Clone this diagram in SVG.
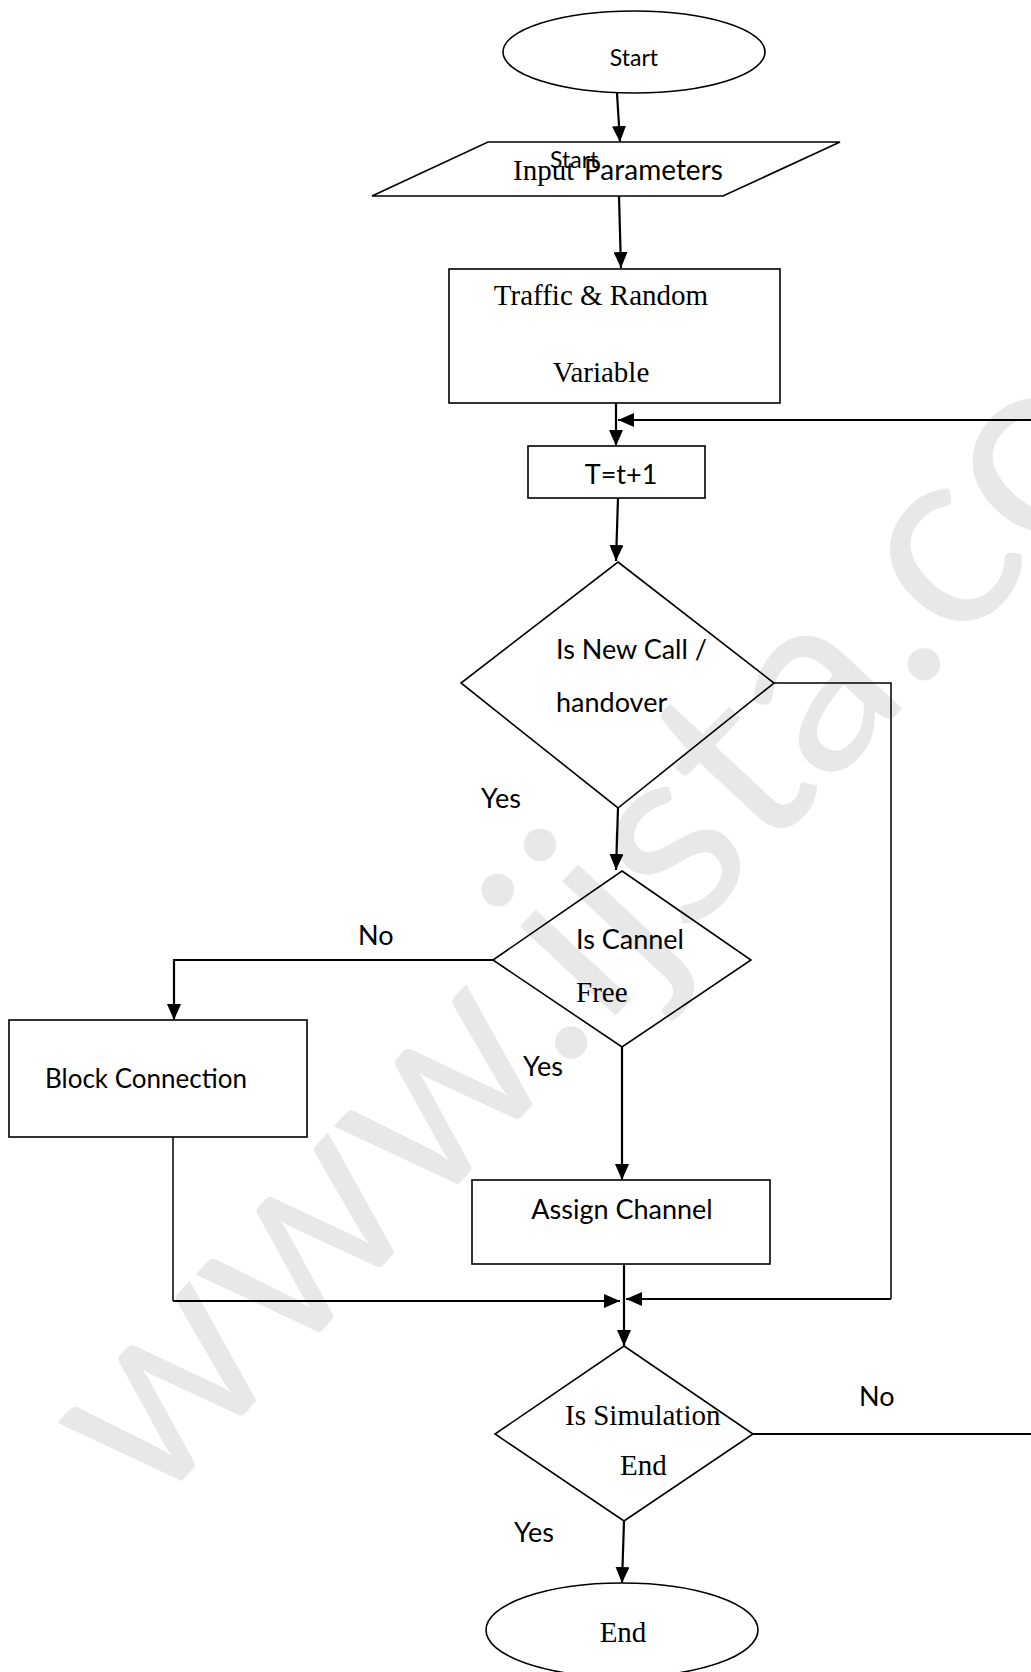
<svg xmlns="http://www.w3.org/2000/svg" width="1031" height="1672" viewBox="0 0 1031 1672">
<defs>
<style>
.shape{fill:none;stroke:#000;stroke-width:1.6}
.con{fill:none;stroke:#000;stroke-width:2.2}
.thin{fill:none;stroke:#000;stroke-width:1.5}
.sans{font-family:Lato,"Liberation Sans",sans-serif;font-size:27px;fill:#000}
.serif{font-family:"Liberation Serif",serif;font-size:29px;fill:#000}
.wm{font-family:Lato,"Liberation Sans",sans-serif;font-size:258px;fill:#e8e8e8}
</style>
<marker id="ah" markerWidth="16" markerHeight="14" refX="16" refY="7" orient="auto" markerUnits="userSpaceOnUse">
<path d="M0,0 L16,7 L0,14 Z" fill="#000"/>
</marker>
</defs>
<rect width="1031" height="1672" fill="#fff"/>
<text class="wm" transform="translate(150,1515) rotate(-47)">www.ijsta.com</text>

<g id="connectors">
<path class="con" d="M617,93 L620,142" marker-end="url(#ah)"/>
<path class="con" d="M619,196 L621,268" marker-end="url(#ah)"/>
<path class="con" d="M616,403 L616,446" marker-end="url(#ah)"/>
<path class="con" d="M1031,420 L618,420" marker-end="url(#ah)"/>
<path class="con" d="M618,498 L616,561" marker-end="url(#ah)"/>
<path class="thin" d="M774,683 L891,683 L891,1299"/>
<path class="con" d="M891,1299 L626,1299" marker-end="url(#ah)"/>
<path class="con" d="M618,808 L616,870" marker-end="url(#ah)"/>
<path class="con" d="M493,960 L174,960 L174,1020" marker-end="url(#ah)"/>
<path class="con" d="M622,1047 L622,1180" marker-end="url(#ah)"/>
<path class="thin" d="M173,1137 L173,1301"/>
<path class="con" d="M173,1301 L620,1301" marker-end="url(#ah)"/>
<path class="con" d="M624,1264 L624,1346" marker-end="url(#ah)"/>
<path class="con" d="M753,1434 L1031,1434"/>
<path class="con" d="M624,1521 L622,1583" marker-end="url(#ah)"/>
</g>

<g id="start">
<ellipse class="shape" cx="634" cy="52" rx="131" ry="41"/>
<text class="sans" x="634" y="66" text-anchor="middle" style="font-size:23px">Start</text>
</g>

<g id="input">
<polygon class="shape" points="488,142 840,142 723,196 372,196"/>
<text class="sans" x="550" y="168" style="font-size:23px">Start</text>
<text class="serif" x="513" y="180">Input</text>
<text class="sans" x="584" y="180" style="font-size:28px">Parameters</text>
</g>

<g id="traffic">
<rect class="shape" x="449" y="269" width="331" height="134"/>
<text class="serif" x="601" y="305" text-anchor="middle">Traffic &amp; Random</text>
<text class="serif" x="601" y="382" text-anchor="middle">Variable</text>
</g>

<g id="tstep">
<rect class="shape" x="528" y="446" width="177" height="52"/>
<text class="sans" x="621" y="484" text-anchor="middle">T=t+1</text>
</g>

<g id="newcall">
<polygon class="shape" points="618,562 774,683 618,808 461,683"/>
<text class="sans" x="556" y="659">Is New Call /</text>
<text class="sans" x="556" y="712">handover</text>
</g>
<text class="sans" x="481" y="808">Yes</text>

<g id="channelfree">
<polygon class="shape" points="622,871 751,960 622,1047 493,960"/>
<text class="sans" x="576" y="949">Is Cannel</text>
<text class="serif" x="576" y="1002">Free</text>
</g>
<text class="sans" x="358" y="945">No</text>
<text class="sans" x="523" y="1076">Yes</text>

<g id="block">
<rect class="shape" x="9" y="1020" width="298" height="117"/>
<text class="sans" x="45" y="1088" style="font-size:26px">Block Connection</text>
</g>

<g id="assign">
<rect class="shape" x="472" y="1180" width="298" height="84"/>
<text class="sans" x="622" y="1219" text-anchor="middle">Assign Channel</text>
</g>

<g id="simend">
<polygon class="shape" points="624,1346 753,1434 624,1521 495,1434"/>
<text class="serif" x="565" y="1425">Is Simulation</text>
<text class="serif" x="620" y="1475">End</text>
</g>
<text class="sans" x="859" y="1406">No</text>
<text class="sans" x="514" y="1542">Yes</text>

<g id="end">
<ellipse class="shape" cx="622" cy="1630" rx="136" ry="47"/>
<text class="serif" x="623" y="1642" text-anchor="middle">End</text>
</g>
</svg>
